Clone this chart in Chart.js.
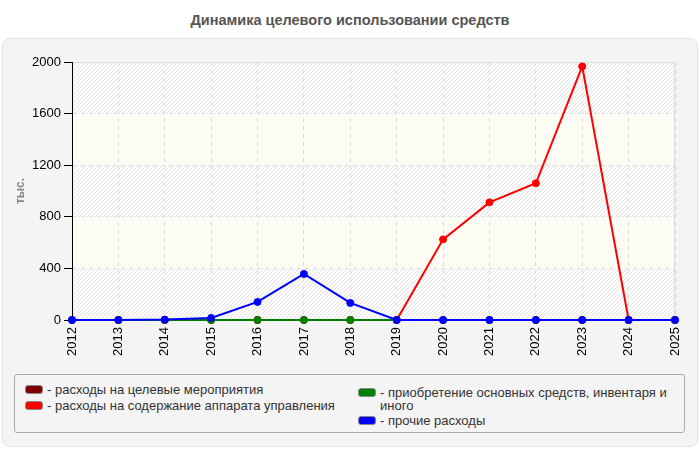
<!DOCTYPE html>
<html>
<head>
<meta charset="utf-8">
<script src="https://cdn.jsdelivr.net/npm/chart.js@4"></script>
<style>
  body { margin: 0; background: #fff; font-family: "Liberation Sans", Arial, sans-serif; }
  #title { position: absolute; left: 0; top: 12px; width: 700px; text-align: center; font-weight: bold; font-size: 14.5px; color: #555; }
  #panel { position: absolute; left: 2px; top: 38px; width: 694px; height: 407px; background: #f4f4f4; border: 1px solid #e2e2e2; border-radius: 8px; }
  #wrap { position: absolute; left: 0; top: 40px; width: 700px; height: 320px; }
  #legend { position: absolute; left: 14px; top: 374px; width: 669px; height: 57px; border: 1px solid #aaa; border-radius: 3px; background: #f4f4f4; }
  .item { position: absolute; font-size: 13px; color: #333; line-height: 13px; }
  .sw { position: absolute; width: 16px; height: 7px; border: 1px solid #888; border-radius: 3px; }
</style>
</head>
<body>
<div id="title">Динамика целевого использовании средств</div>
<div id="panel"></div>
<div id="wrap"><canvas id="chart" width="700" height="320"></canvas></div>
<div id="legend"></div>
<script>
const years = ['2012', '2013', '2014', '2015', '2016', '2017', '2018', '2019', '2020', '2021', '2022', '2023', '2024', '2025'];
const seriesNames = ['расходы на целевые мероприятия', 'расходы на содержание аппарата управления', 'приобретение основных средств, инвентаря и иного', 'прочие расходы'];
const seriesColors = ['#800000', '#ff0000', '#008000', '#0000ff'];
const targetEvents = [0, 0, 0, 0, 0, 0, 0, 0, 0, 0, 0, 0, 0, 0];
const management = [0, 0, 0, 0, 0, 0, 0, 0, 625, 912, 1060, 1966, 0, 0];
const fixedAssets = [0, 0, 0, 0, 0, 0, 0, 0, 0, 0, 0, 0, 0, 0];
const otherCosts = [0, 0, 3, 16, 140, 357, 132, 0, 0, 0, 0, 0, 0, 0];
const yTicks = [0, 400, 800, 1200, 1600, 2000];

// legend positions (html, two columns)
const legendPos = [[10, 10], [10, 26], [343, 13], [343, 41]];
const legend = document.getElementById('legend');
seriesNames.forEach((name, i) => {
    let sw = document.createElement('div');
    sw.className = 'sw';
    sw.style.left = legendPos[i][0] + 'px';
    sw.style.top = legendPos[i][1] + 'px';
    sw.style.background = seriesColors[i];
    legend.appendChild(sw);
    let txt = document.createElement('div');
    txt.className = 'item';
    txt.style.left = (legendPos[i][0] + 22) + 'px';
    txt.style.top = (legendPos[i][1] - 2) + 'px';
    txt.style.width = i == 2 ? '300px' : '320px';
    txt.textContent = '- ' + name;
    legend.appendChild(txt);
});

// hatch pattern for plot background
function hatch() {
    let c = document.createElement('canvas');
    c.width = 4; c.height = 4;
    let g = c.getContext('2d');
    g.fillStyle = '#fcfcfc';
    g.fillRect(0, 0, 4, 4);
    g.strokeStyle = '#e4e4e4';
    g.lineWidth = 1;
    g.beginPath();
    g.moveTo(0, 4); g.lineTo(4, 0);
    g.moveTo(-1, 1); g.lineTo(1, -1);
    g.moveTo(3, 5); g.lineTo(5, 3);
    g.stroke();
    return g.createPattern(c, 'repeat');
}

const bandsPlugin = {
    id: 'bands',
    beforeDraw(chart) {
        const ctx = chart.ctx;
        const a = chart.chartArea;
        const y = chart.scales.y;
        const pat = hatch();
        ctx.save();
        for (let i = 0; i < yTicks.length - 1; i++) {
            let top = y.getPixelForValue(yTicks[i + 1]);
            let bottom = y.getPixelForValue(yTicks[i]);
            ctx.fillStyle = i % 2 == 0 ? pat : '#fcfcf5';
            ctx.fillRect(a.left, top, a.right - a.left, bottom - top);
        }
        ctx.strokeStyle = '#dcdcdc';
        ctx.lineWidth = 1;
        ctx.strokeRect(a.left + 0.5, a.top + 0.5, a.right - a.left - 1, a.bottom - a.top - 1);
        ctx.restore();
    }
};

function ds(i, data, order) {
    return {
        label: seriesNames[i],
        data: data,
        borderColor: seriesColors[i],
        backgroundColor: seriesColors[i],
        borderWidth: 2,
        pointRadius: 3.5,
        pointBorderWidth: 1,
        pointHoverRadius: 3.5,
        tension: 0,
        clip: false,
        order: order
    };
}

new Chart(document.getElementById('chart'), {
    type: 'line',
    data: {
        labels: years,
        datasets: [
            ds(0, targetEvents, 3),
            ds(1, management, 2),
            ds(2, fixedAssets, 1),
            ds(3, otherCosts, 0)
        ]
    },
    plugins: [bandsPlugin],
    options: {
        responsive: false,
        animation: false,
        layout: { padding: { top: 22, right: 25, left: 0, bottom: 0 } },
        plugins: {
            legend: { display: false },
            title: { display: false },
            tooltip: { enabled: false }
        },
        scales: {
            x: {
                offset: false,
                afterFit(scale) { scale.height = 40; },
                grid: { color: '#dddddd', tickLength: 0, drawTicks: false },
                border: { color: '#000', dash: [4, 4] },
                ticks: {
                    color: '#000',
                    padding: 7,
                    minRotation: 90,
                    maxRotation: 90,
                    autoSkip: false,
                    font: { family: 'Liberation Sans', size: 13 }
                }
            },
            y: {
                min: 0,
                max: 2000,
                afterFit(scale) { scale.width = 72; },
                afterBuildTicks(scale) { scale.ticks = yTicks.map(v => ({ value: v })); },
                grid: { color: '#dddddd', tickColor: '#000', tickLength: 8 },
                border: { color: '#000', dash: [4, 4] },
                title: {
                    display: true,
                    text: 'тыс.',
                    color: '#888',
                    padding: { top: 13, bottom: 0 },
                    font: { family: 'Liberation Sans', size: 12, weight: 'bold' }
                },
                ticks: {
                    color: '#000',
                    padding: 3,
                    callback: v => String(v),
                    font: { family: 'Liberation Sans', size: 13 }
                }
            }
        }
    }
});
</script>
</body>
</html>
